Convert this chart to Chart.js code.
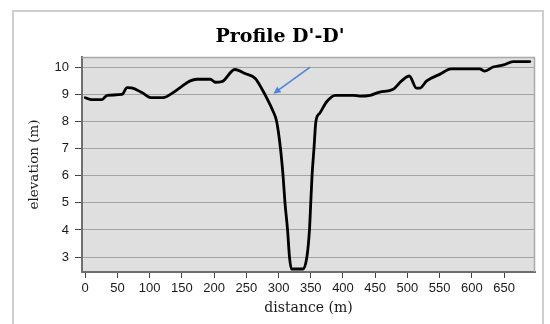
<!DOCTYPE html>
<html>
<head>
<meta charset="utf-8">
<script src="https://cdn.jsdelivr.net/npm/chart.js@4/dist/chart.umd.min.js"></script>
<style>
  html, body { margin: 0; padding: 0; background: #ffffff; }
  #wrap { position: relative; width: 550px; height: 324px; overflow: hidden; }
  #frame { position: absolute; left: 12px; top: 10px; width: 532px; height: 330px;
           border: 2px solid #cfcfcf; box-sizing: border-box; }
  #c { position: absolute; left: 0; top: 0; }
</style>
</head>
<body>
<div id="wrap">
  <div id="frame"></div>
  <canvas id="c" width="550" height="324"></canvas>
</div>
<script>
// Ground profile along section D'-D'
const distance = [0, 10, 26, 34, 57, 65, 72, 88, 103, 121, 134, 150, 163, 173, 194, 202, 212, 232, 248, 264,
                  274, 283, 291, 297, 303, 307, 310, 314, 317, 320, 338, 344, 348, 350, 352, 355, 358, 364,
                  375, 388, 416, 426, 442, 457, 478, 491, 503, 514, 519, 530, 550, 568, 612, 620, 633, 649, 664, 690];
const elevation = [8.87, 8.80, 8.80, 8.96, 8.99, 9.24, 9.23, 9.06, 8.87, 8.87, 9.02, 9.29, 9.49, 9.55, 9.55, 9.44, 9.46, 9.91, 9.76, 9.58,
                   9.20, 8.80, 8.40, 8.00, 7.00, 6.00, 5.00, 4.00, 3.00, 2.56, 2.56, 3.00, 4.00, 5.00, 6.00, 7.00, 8.00, 8.30,
                   8.73, 8.96, 8.96, 8.93, 8.96, 9.08, 9.18, 9.49, 9.67, 9.22, 9.22, 9.49, 9.73, 9.93, 9.93, 9.85, 10.00, 10.08, 10.20, 10.20];
const xTicks = [0, 50, 100, 150, 200, 250, 300, 350, 400, 450, 500, 550, 600, 650];
const yTicks = [3, 4, 5, 6, 7, 8, 9, 10];
// Pointer arrow (tail, head) in data units
const arrowTail = { x: 349, y: 10.0 };
const arrowHead = { x: 292, y: 9.02 };

const points = distance.map((d, i) => ({ x: d, y: elevation[i] }));

const plotFrame = {
  id: 'plotFrame',
  beforeDraw(chart) {
    const { ctx, chartArea: a } = chart;
    ctx.save();
    ctx.fillStyle = '#dfdfdf';
    ctx.fillRect(a.left, a.top, a.right - a.left, a.bottom - a.top);
    ctx.restore();
  },
  afterDraw(chart) {
    const { ctx, chartArea: a, scales } = chart;
    ctx.save();
    ctx.strokeStyle = '#a9a9a9';
    ctx.lineWidth = 1.5;
    ctx.beginPath();
    ctx.moveTo(a.left, a.top + 0.5);
    ctx.lineTo(a.right - 0.5, a.top + 0.5);
    ctx.lineTo(a.right - 0.5, a.bottom);
    ctx.stroke();
    // arrow
    const x1 = scales.x.getPixelForValue(arrowTail.x), y1 = scales.y.getPixelForValue(arrowTail.y);
    const x2 = scales.x.getPixelForValue(arrowHead.x), y2 = scales.y.getPixelForValue(arrowHead.y);
    const ang = Math.atan2(y2 - y1, x2 - x1);
    ctx.strokeStyle = '#4d84dc';
    ctx.fillStyle = '#4d84dc';
    ctx.lineWidth = 1.6;
    ctx.beginPath();
    ctx.moveTo(x1, y1);
    ctx.lineTo(x2 - 4 * Math.cos(ang), y2 - 4 * Math.sin(ang));
    ctx.stroke();
    const L = 8, W = 0.45;
    ctx.beginPath();
    ctx.moveTo(x2, y2);
    ctx.lineTo(x2 - L * Math.cos(ang - W), y2 - L * Math.sin(ang - W));
    ctx.lineTo(x2 - L * Math.cos(ang + W), y2 - L * Math.sin(ang + W));
    ctx.closePath();
    ctx.fill();
    ctx.restore();
  }
};

const tickFont = { family: "'Liberation Sans', sans-serif", size: 13 };
const titleFamily = "'DejaVu Serif', 'Liberation Serif', serif";

new Chart(document.getElementById('c'), {
  type: 'line',
  data: {
    datasets: [{
      data: points,
      borderColor: '#000000',
      borderWidth: 2.8,
      pointRadius: 0,
      fill: false,
      cubicInterpolationMode: 'monotone',
      borderJoinStyle: 'round',
      borderCapStyle: 'round'
    }]
  },
  options: {
    responsive: false,
    animation: false,
    devicePixelRatio: 1,
    layout: { padding: { left: 25, right: 15, top: 0, bottom: 3.6 } },
    plugins: {
      legend: { display: false },
      tooltip: { enabled: false },
      title: {
        display: true,
        text: "Profile D'-D'",
        color: '#000000',
        font: { family: titleFamily, size: 19, weight: 'bold', lineHeight: 1.2 },
        padding: { top: 25.6, bottom: 8.6 }
      }
    },
    scales: {
      x: {
        type: 'linear',
        min: -5,
        max: 698,
        afterBuildTicks(s) { s.ticks = xTicks.map(v => ({ value: v })); },
        afterFit(s) { s.height = 48.4; },
        border: { color: '#6f6f6f', width: 2 },
        grid: { drawOnChartArea: false, drawTicks: true, tickLength: 6, tickColor: '#444444', tickWidth: 1 },
        ticks: { color: '#1a1a1a', font: tickFont, padding: 3, maxRotation: 0, autoSkip: false },
        title: {
          display: true, text: 'distance (m)', color: '#1a1a1a',
          font: { family: titleFamily, size: 14, lineHeight: 1.2 },
          padding: { top: 2, bottom: 4 }
        }
      },
      y: {
        type: 'linear',
        min: 2.45,
        max: 10.37,
        afterBuildTicks(s) { s.ticks = yTicks.map(v => ({ value: v })); },
        afterFit(s) { s.width = 57; },
        border: { color: '#6f6f6f', width: 2 },
        grid: {
          color: '#a3a3a3', lineWidth: 1, borderDash: [2, 2],
          drawTicks: true, tickLength: 7, tickColor: '#444444', tickWidth: 1, tickBorderDash: []
        },
        ticks: { color: '#1a1a1a', font: tickFont, padding: 6 },
        title: {
          display: true, text: 'elevation (m)', color: '#1a1a1a',
          font: { family: titleFamily, size: 13.5, lineHeight: 1.2 },
          padding: { top: 1.6, bottom: 2 }
        }
      }
    }
  },
  plugins: [plotFrame]
});
</script>
</body>
</html>
